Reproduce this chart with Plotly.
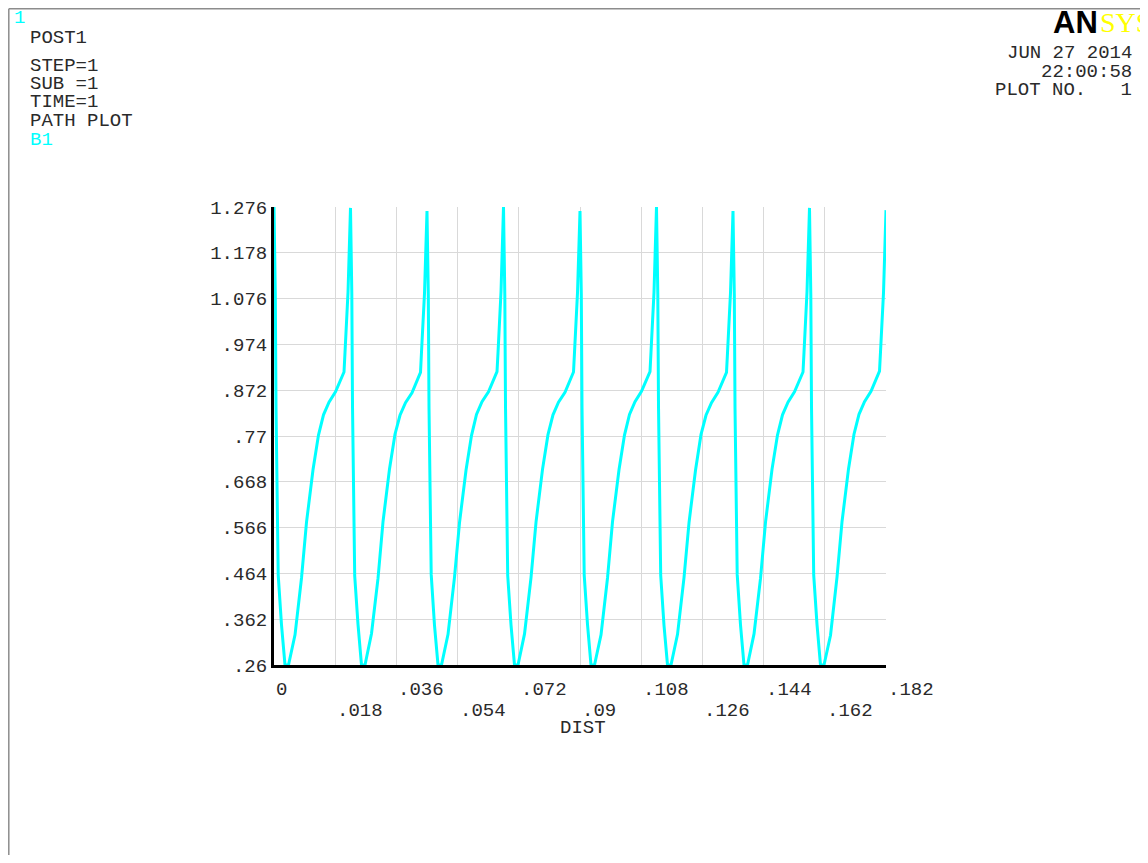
import plotly.graph_objects as go

# ---------------- data ----------------
DIST = [
    0.0, 0.00039, 0.0006, 0.00095, 0.00125, 0.00223, 0.00327, 0.00431, 0.00625, 0.00818,
    0.00967, 0.0116, 0.01323, 0.01472, 0.01636, 0.01829, 0.02082, 0.02112, 0.02201,
    0.02275, 0.02314, 0.02335, 0.0237, 0.024, 0.02498, 0.02602, 0.02706, 0.029, 0.03093,
    0.03242, 0.03435, 0.03598, 0.03747, 0.03911, 0.04104, 0.04357, 0.04387, 0.04476,
    0.0455, 0.04589, 0.0461, 0.04645, 0.04675, 0.04773, 0.04877, 0.04981, 0.05175, 0.05368,
    0.05517, 0.0571, 0.05873, 0.06022, 0.06186, 0.06379, 0.06632, 0.06662, 0.06751,
    0.06825, 0.06864, 0.06885, 0.0692, 0.0695, 0.07048, 0.07152, 0.07256, 0.0745, 0.07643,
    0.07792, 0.07985, 0.08148, 0.08297, 0.08461, 0.08654, 0.08907, 0.08937, 0.09026,
    0.091, 0.09139, 0.0916, 0.09195, 0.09225, 0.09323, 0.09427, 0.09531, 0.09725, 0.09918,
    0.10067, 0.1026, 0.10423, 0.10572, 0.10736, 0.10929, 0.11182, 0.11212, 0.11301,
    0.11375, 0.11414, 0.11435, 0.1147, 0.115, 0.11598, 0.11702, 0.11806, 0.12, 0.12193,
    0.12342, 0.12535, 0.12698, 0.12847, 0.13011, 0.13204, 0.13457, 0.13487, 0.13576,
    0.1365, 0.13689, 0.1371, 0.13745, 0.13775, 0.13873, 0.13977, 0.14081, 0.14275, 0.14468,
    0.14617, 0.1481, 0.14973, 0.15122, 0.15286, 0.15479, 0.15732, 0.15762, 0.15851,
    0.15925, 0.15964, 0.15985, 0.1602, 0.1605, 0.16148, 0.16252, 0.16356, 0.1655, 0.16743,
    0.16892, 0.17085, 0.17248, 0.17397, 0.17561, 0.17754, 0.18007, 0.18037, 0.18126,
    0.182,
]
B1 = [
    1.276, 1.081, 0.830, 0.571, 0.460, 0.349, 0.26, 0.26, 0.327, 0.453,
    0.577, 0.693, 0.770, 0.815, 0.843, 0.866, 0.910, 0.954, 1.087,
    1.274, 1.083, 0.832, 0.568, 0.458, 0.350, 0.26, 0.26, 0.330, 0.452,
    0.578, 0.695, 0.772, 0.814, 0.842, 0.864, 0.909, 0.955, 1.085,
    1.267, 1.080, 0.829, 0.572, 0.461, 0.348, 0.26, 0.26, 0.328, 0.455,
    0.576, 0.692, 0.769, 0.816, 0.844, 0.866, 0.911, 0.953, 1.088,
    1.276, 1.082, 0.831, 0.570, 0.459, 0.349, 0.26, 0.26, 0.329, 0.454,
    0.577, 0.694, 0.771, 0.815, 0.843, 0.865, 0.910, 0.954, 1.086,
    1.267, 1.081, 0.830, 0.571, 0.460, 0.350, 0.26, 0.26, 0.327, 0.453,
    0.578, 0.693, 0.770, 0.816, 0.844, 0.867, 0.911, 0.955, 1.087,
    1.276, 1.080, 0.831, 0.569, 0.459, 0.348, 0.26, 0.26, 0.328, 0.454,
    0.576, 0.692, 0.771, 0.814, 0.842, 0.865, 0.909, 0.953, 1.086,
    1.267, 1.082, 0.829, 0.572, 0.461, 0.349, 0.26, 0.26, 0.329, 0.452,
    0.577, 0.694, 0.770, 0.815, 0.843, 0.866, 0.910, 0.954, 1.088,
    1.274, 1.081, 0.830, 0.570, 0.460, 0.350, 0.26, 0.26, 0.326, 0.455,
    0.578, 0.695, 0.772, 0.816, 0.844, 0.867, 0.912, 0.955, 1.086,
    1.269,
]

X_MIN, X_MAX = 0.0, 0.182
Y_MIN, Y_MAX = 0.26, 1.276
X_TICK_LABELS = ['0', '.018', '.036', '.054', '.072', '.09', '.108', '.126', '.144', '.162', '.182']
Y_TICK_LABELS = ['.26', '.362', '.464', '.566', '.668', '.77', '.872', '.974', '1.076', '1.178', '1.276']
X_TITLE = 'DIST'
HEADER_LEFT = ['POST1', 'STEP=1', 'SUB =1', 'TIME=1', 'PATH PLOT']
WINDOW_NO = '1'
CURVE_NAME = 'B1'
HEADER_RIGHT = ['JUN 27 2014', '22:00:58', 'PLOT NO.   1']

# ---------------- layout geometry ----------------
# page body has an 8px margin, so the figure is drawn smaller to avoid scrolling
OFF = 8
W, H = 1148 - OFF, 863 - 2 * OFF
# plot-area edges in window pixels
PL, PR, PT, PB = 274, 886, 207, 665
FONT = 'Liberation Mono, Courier New, monospace'
FS = 19
TXT = '#2a2a2a'
CYAN = '#00FFFF'


def px_x(px):
    return (px - PL) / (PR - PL)


def px_y(py):
    return (PB - py) / (PB - PT)


def nb(s):
    return s.replace(' ', '\u00a0')


n_x = len(X_TICK_LABELS) - 1
x_ticks = [X_MIN + i * (X_MAX - X_MIN) / n_x for i in range(n_x + 1)]
n_y = len(Y_TICK_LABELS) - 1
y_ticks = [Y_MIN + i * (Y_MAX - Y_MIN) / n_y for i in range(n_y + 1)]

fig = go.Figure()
fig.add_trace(go.Scatter(x=DIST, y=B1, mode='lines', name=CURVE_NAME,
                         line=dict(color=CYAN, width=3), showlegend=False,
                         hoverinfo='x+y'))

annotations = []
# x tick labels, two staggered rows, left-aligned at the tick
for i, (tv, tl) in enumerate(zip(x_ticks, X_TICK_LABELS)):
    annotations.append(dict(x=tv, xref='x', y=0, yref='paper', text=tl,
                            xanchor='left', yanchor='middle', showarrow=False,
                            xshift=0, yshift=-25 if i % 2 == 0 else -46,
                            font=dict(family=FONT, size=FS, color=TXT)))
annotations.append(dict(x=0.5, xref='paper', y=0, yref='paper', text=X_TITLE,
                        xanchor='center', yanchor='middle', showarrow=False,
                        xshift=3, yshift=-63, font=dict(family=FONT, size=FS, color=TXT)))

# top-left header
annotations.append(dict(x=px_x(12), xref='paper', y=px_y(18), yref='paper', text=WINDOW_NO,
                        xanchor='left', yanchor='middle', showarrow=False,
                        font=dict(family=FONT, size=FS, color=CYAN)))
left_y = [37.5, 65.5, 84, 102, 121]
for t, yy in zip(HEADER_LEFT, left_y):
    annotations.append(dict(x=px_x(28), xref='paper', y=px_y(yy), yref='paper', text=nb(t),
                            xanchor='left', yanchor='middle', showarrow=False,
                            font=dict(family=FONT, size=FS, color=TXT)))
annotations.append(dict(x=px_x(28), xref='paper', y=px_y(140), yref='paper', text=CURVE_NAME,
                        xanchor='left', yanchor='middle', showarrow=False,
                        font=dict(family=FONT, size=FS, color=CYAN)))

# top-right header
right_y = [53, 72, 90]
for t, yy in zip(HEADER_RIGHT, right_y):
    annotations.append(dict(x=px_x(1134), xref='paper', y=px_y(yy), yref='paper', text=nb(t),
                            xanchor='right', yanchor='middle', showarrow=False,
                            font=dict(family=FONT, size=FS, color=TXT)))
# ANSYS logo
annotations.append(dict(x=px_x(1100), xref='paper', y=px_y(22), yref='paper', text='<b>AN</b>',
                        xanchor='right', yanchor='middle', showarrow=False,
                        font=dict(family='Liberation Sans', size=31, color='#000000')))
annotations.append(dict(x=px_x(1098), xref='paper', y=px_y(22), yref='paper', text='SYS',
                        xanchor='left', yanchor='middle', showarrow=False,
                        font=dict(family='Liberation Serif', size=28, color='#FFFF00')))

shapes = [
    # window frame
    dict(type='line', xref='paper', yref='paper', x0=px_x(8.8), x1=px_x(8.8),
         y0=px_y(8.8), y1=px_y(900), line=dict(color='#8c8c8c', width=1.5)),
    dict(type='line', xref='paper', yref='paper', x0=px_x(8.8), x1=px_x(1200),
         y0=px_y(8.8), y1=px_y(8.8), line=dict(color='#8c8c8c', width=1.5)),
]

fig.update_layout(
    width=W, height=H,
    margin=dict(l=PL - OFF, r=(W + OFF) - PR, t=PT - OFF, b=(H + OFF) - PB, pad=0),
    paper_bgcolor='white', plot_bgcolor='white',
    annotations=annotations, shapes=shapes,
    xaxis=dict(range=[X_MIN, X_MAX], tickmode='array', tickvals=x_ticks,
               showticklabels=False, ticks='', showgrid=True, gridcolor='#d9d9d9', gridwidth=1,
               zeroline=False, showline=True, linecolor='black', linewidth=3, mirror=False),
    yaxis=dict(range=[Y_MIN, Y_MAX], tickmode='array', tickvals=y_ticks, ticktext=Y_TICK_LABELS,
               ticks='', showgrid=True, gridcolor='#d9d9d9', gridwidth=1, ticklabelstandoff=0,
               tickfont=dict(family=FONT, size=FS, color=TXT),
               zeroline=False, showline=True, linecolor='black', linewidth=3, mirror=False),
)

fig.write_html('out.html')
